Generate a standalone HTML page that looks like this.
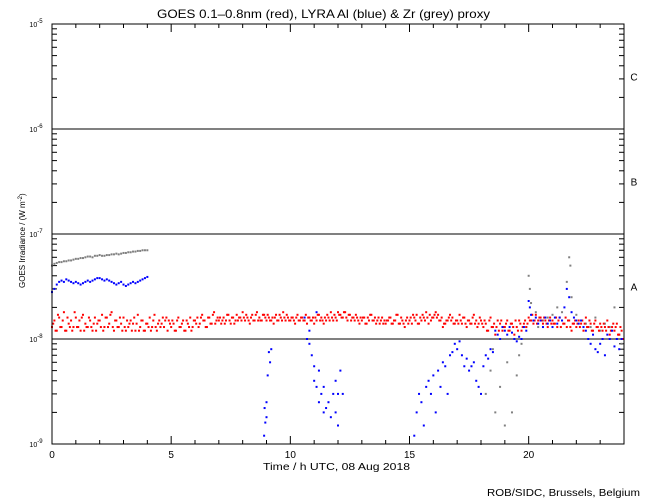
<!DOCTYPE html>
<html><head><meta charset="utf-8"><style>
body{margin:0;background:#fff}
svg{display:block;font-family:"Liberation Sans",sans-serif}
</style></head><body>
<svg id="chart" width="650" height="500" viewBox="0 0 650 500">
<text x="157" y="18" font-size="12" textLength="333" lengthAdjust="spacingAndGlyphs">GOES 0.1–0.8nm (red), LYRA Al (blue) &amp; Zr (grey) proxy</text>
<text x="263" y="470" font-size="10" textLength="147" lengthAdjust="spacingAndGlyphs">Time / h UTC, 08 Aug 2018</text>
<text transform="translate(25,288) rotate(-90)" font-size="8">GOES Irradiance / (W m<tspan dy="-3" font-size="6">-2</tspan><tspan dy="3">)</tspan></text>
<text x="487" y="496" font-size="10" textLength="153" lengthAdjust="spacingAndGlyphs">ROB/SIDC, Brussels, Belgium</text>
<g id="axes"></g>
<g id="marks"></g>
<rect x="52" y="24" width="572" height="420" fill="none" stroke="#000" stroke-width="1"/>
</svg>
<script>
const xTicks=[0,5,10,15,20];
const yDecades=[-9,-8,-7,-6,-5];
const classLabels=["A","B","C"];
const redVals=[
1.3,1.5,1.2,1.6,1.3,1.8,1.2,1.4,1.5,1.3,
1.6,1.3,1.2,1.7,1.4,1.3,1.5,1.2,1.6,1.4,
1.5,1.7,1.3,1.6,1.4,1.8,1.2,1.5,1.3,1.4,
1.6,1.2,1.3,1.5,1.4,1.2,1.7,1.3,1.5,1.2,
1.4,1.6,1.3,1.7,1.2,1.5,1.4,1.3,1.6,1.5,
1.3,1.4,1.2,1.6,1.3,1.5,1.2,1.4,1.6,1.3,
1.5,1.6,1.4,1.7,1.5,1.3,1.6,1.4,1.8,1.5,
1.5,1.4,1.6,1.5,1.7,1.4,1.6,1.5,1.5,1.6,
1.8,1.5,1.6,1.4,1.7,1.5,1.8,1.6,1.5,1.7,
1.5,1.6,1.5,1.4,1.7,1.5,1.6,1.8,1.5,1.6,
1.5,1.6,1.4,1.7,1.5,1.6,1.5,1.4,1.6,1.5,
1.4,1.5,1.7,1.6,1.4,1.5,1.6,1.8,1.5,1.6,
1.8,1.7,1.6,1.8,1.5,1.7,1.6,1.5,1.6,1.4,
1.5,1.6,1.4,1.5,1.7,1.5,1.4,1.6,1.5,1.4,
1.4,1.5,1.6,1.4,1.5,1.7,1.4,1.5,1.3,1.6,
1.5,1.4,1.6,1.7,1.4,1.5,1.6,1.8,1.4,1.5,
1.6,1.8,1.7,1.5,1.3,1.4,1.5,1.7,1.6,1.4,
1.5,1.7,1.4,1.6,1.3,1.5,1.4,1.7,1.5,1.4,
1.5,1.3,1.4,1.2,1.6,1.3,1.1,1.5,1.4,1.2,
1.3,1.5,1.2,1.4,1.1,1.3,1.5,1.2,1.4,1.3,
1.6,1.5,1.4,1.7,1.5,1.6,1.4,1.5,1.3,1.6,
1.5,1.4,1.3,1.6,1.5,1.4,1.3,1.5,1.2,1.4,
1.3,1.5,1.4,1.2,1.6,1.3,1.4,1.2,1.5,1.3,
1.4,1.2,1.3,1.5,1.1,1.3,1.2,1.4,1.1,1.2];
const redAlt=[
1.4,1.2,1.7,1.3,1.5,1.2,1.6,1.3,1.2,1.8,
1.3,1.5,1.6,1.2,1.3,1.6,1.3,1.4,1.2,1.5,
1.3,1.2,1.6,1.3,1.7,1.3,1.5,1.3,1.6,1.2,
1.3,1.5,1.4,1.2,1.6,1.4,1.2,1.5,1.2,1.4,
1.3,1.2,1.5,1.3,1.4,1.3,1.6,1.5,1.2,1.4,
1.5,1.2,1.5,1.3,1.4,1.2,1.5,1.3,1.2,1.5,
1.4,1.3,1.6,1.5,1.3,1.6,1.4,1.7,1.4,1.6,
1.6,1.5,1.4,1.7,1.5,1.6,1.4,1.7,1.6,1.5,
1.6,1.7,1.5,1.6,1.5,1.7,1.5,1.5,1.7,1.6,
1.7,1.5,1.6,1.6,1.5,1.7,1.5,1.6,1.7,1.5,
1.6,1.5,1.6,1.5,1.6,1.5,1.7,1.6,1.5,1.6,
1.6,1.7,1.5,1.5,1.6,1.7,1.5,1.6,1.7,1.5,
1.7,1.6,1.8,1.6,1.7,1.5,1.6,1.7,1.5,1.6,
1.6,1.4,1.6,1.7,1.5,1.6,1.5,1.4,1.6,1.5,
1.5,1.6,1.4,1.5,1.7,1.4,1.6,1.4,1.5,1.4,
1.6,1.7,1.5,1.4,1.6,1.7,1.5,1.6,1.7,1.6,
1.7,1.6,1.5,1.6,1.4,1.5,1.6,1.5,1.4,1.5,
1.4,1.5,1.6,1.4,1.5,1.4,1.6,1.4,1.3,1.6,
1.4,1.5,1.2,1.5,1.3,1.4,1.3,1.2,1.5,1.3,
1.4,1.2,1.4,1.3,1.5,1.2,1.4,1.3,1.5,1.4,
1.5,1.7,1.5,1.4,1.6,1.5,1.6,1.4,1.5,1.4,
1.4,1.6,1.5,1.3,1.4,1.6,1.5,1.3,1.4,1.5,
1.4,1.3,1.5,1.4,1.3,1.5,1.2,1.4,1.3,1.2,
1.3,1.4,1.2,1.3,1.2,1.4,1.3,1.1,1.3,1.0];
const blueEarly=[2.8,3.0,3.3,3.5,3.6,3.5,3.7,3.6,3.5,3.4,3.5,3.4,3.3,3.4,3.5,3.6,3.5,3.6,3.7,3.8,3.8,3.7,3.6,3.7,3.6,3.5,3.4,3.3,3.4,3.5,3.3,3.2,3.3,3.4,3.5,3.4,3.5,3.6,3.7,3.8,3.9];
const greyEarly=[5.0,5.2,5.3,5.4,5.4,5.5,5.5,5.6,5.6,5.7,5.8,5.8,5.9,5.9,6.0,6.1,6.1,6.0,6.2,6.2,6.3,6.2,6.2,6.3,6.3,6.4,6.4,6.5,6.4,6.5,6.6,6.6,6.7,6.7,6.8,6.8,6.9,6.9,7.0,7.0,7.0];
const blueLateT=[8.9,8.92,8.95,9.0,9.0,9.05,9.1,9.15,9.2,10.6,10.7,10.8,10.8,10.9,11.0,11.0,11.1,11.1,11.2,11.2,11.3,11.4,11.4,11.5,11.6,11.7,11.8,11.9,11.9,12.0,12.0,12.1,12.2,15.2,15.3,15.4,15.5,15.6,15.7,15.8,15.9,16.0,16.1,16.2,16.3,16.4,16.5,16.6,16.7,16.8,16.9,17.0,17.1,17.2,17.3,17.4,17.5,17.6,17.7,17.8,17.9,18.0,18.1,18.2,18.3,18.4,18.5,18.6,18.7,18.8,18.9,19.0,19.1,19.2,19.3,19.4,19.5,19.6,19.7,19.8,19.9,20.0,20.05,20.1,20.2,20.3,20.4,20.5,20.6,20.7,20.8,20.9,21.0,21.1,21.2,21.3,21.4,21.5,21.6,21.7,21.8,21.9,22.0,22.1,22.2,22.3,22.4,22.5,22.6,22.7,22.8,22.9,23.0,23.1,23.2,23.3,23.4,23.5,23.6,23.7,23.8,23.9];
const blueLateV=[0.12,0.22,0.16,0.25,0.18,0.45,0.75,0.6,0.8,1.6,1.0,0.9,1.2,0.7,0.55,0.4,0.35,1.8,0.25,0.5,0.3,0.2,0.35,0.22,0.25,0.18,0.3,0.2,0.4,0.15,0.3,0.5,0.3,0.12,0.2,0.3,0.25,0.15,0.35,0.4,0.3,0.45,0.2,0.5,0.35,0.6,0.55,0.3,0.7,0.75,0.9,0.8,0.95,0.7,0.55,0.65,0.5,0.55,0.6,0.4,0.35,0.3,0.55,0.7,0.65,0.8,0.75,1.2,1.1,1.0,1.3,1.2,1.1,1.3,1.15,1.0,0.95,1.05,1.0,1.3,1.2,2.3,2.0,1.7,1.5,1.6,1.4,1.5,1.3,1.6,1.4,1.5,1.3,1.6,1.4,1.6,1.5,2.0,3.0,2.5,1.8,1.6,1.5,1.4,1.5,1.3,1.2,1.0,0.9,1.1,0.8,0.75,0.9,1.0,0.7,1.1,1.0,1.2,0.85,1.0,0.8,1.0];
const greyLateT=[18.0,18.2,18.4,18.5,18.6,18.8,19.0,19.1,19.3,19.5,19.6,19.7,19.8,19.9,20.0,20.05,20.1,20.2,20.3,20.4,20.6,20.8,21.0,21.2,21.4,21.6,21.7,21.75,21.8,22.0,22.2,22.4,22.6,22.8,23.0,23.2,23.4,23.6,23.8,23.9];
const greyLateV=[0.1,0.3,0.5,0.8,0.2,0.35,0.15,0.6,0.2,0.45,0.7,0.9,1.0,1.3,4.0,3.0,2.2,1.5,1.8,1.3,1.5,1.6,1.7,2.0,1.8,3.5,6.0,5.0,2.5,1.7,1.5,1.4,1.3,1.6,1.2,1.4,1.3,2.0,1.1,0.9];

const X0=52,X1=624,Y0=444,Y1=24;
const xS=t=>X0+(X1-X0)*t/24;
const yS=v=>Y0-(Math.log10(v)+9)*(Y0-Y1)/4;
const NS="http://www.w3.org/2000/svg";
const axes=document.getElementById('axes'),marks=document.getElementById('marks');
function mk(tag,attrs,parent){const e=document.createElementNS(NS,tag);for(const k in attrs)e.setAttribute(k,attrs[k]);parent.appendChild(e);return e;}

for(let h=1;h<24;h++){
  const len=h%5===0?8:4;const x=xS(h);
  const b=mk('line',{x1:x,x2:x,y1:Y0,y2:Y0-len,stroke:'#000'},axes);
  
  
  const t=mk('line',{x1:x,x2:x,y1:Y1,y2:Y1+len,stroke:'#000'},axes);
  
  
}
xTicks.forEach(h=>{
  const l=mk('text',{x:xS(h),y:458,'text-anchor':'middle','font-size':10},axes);
  l.textContent=h;
  
  
});
yDecades.forEach((d,i)=>{
  const y=yS(Math.pow(10,d));
  const g=mk('text',{x:36,y:y+3,'text-anchor':'middle','font-size':7},axes);
  g.innerHTML='10<tspan dy="-4" font-size="6">'+d+'</tspan>';
  
  
  if(d>-9&&d<-5){
    const ln=mk('line',{x1:X0,x2:X1,y1:y,y2:y,stroke:'#000'},axes);
    
    
  }
  if(d<-5){
    for(let m=2;m<=9;m++){
      const yy=yS(m*Math.pow(10,d));
      const a=mk('line',{x1:X0,x2:X0+5,y1:yy,y2:yy,stroke:'#000'},axes);
      
      
      const c=mk('line',{x1:X1-5,x2:X1,y1:yy,y2:yy,stroke:'#000'},axes);
      
      
    }
  }
});
classLabels.forEach((c,i)=>{
  const y=yS(Math.pow(10,-8+i)*3.16);
  const l=mk('text',{x:634,y:y+4,'text-anchor':'middle','font-size':10},axes);
  l.textContent=c;
  
  
});
function dot(t,v,col,name){
  const y=yS(v*1e-8);
  if(y<Y1||y>Y0)return;
  const r=mk('rect',{x:xS(t)-1,y:y-1,width:2,height:2,fill:col},marks);
  
  
}
greyEarly.forEach((v,i)=>dot(i*0.1,v,'#808080','zr-point'));
greyLateT.forEach((t,i)=>dot(t,greyLateV[i],'#808080','zr-point'));
redVals.forEach((v,i)=>dot(i*0.1,v,'#ff0000','goes-point'));
redAlt.forEach((v,i)=>dot(i*0.1+0.05,v,'#ff0000','goes-point'));
blueEarly.forEach((v,i)=>dot(i*0.1,v,'#0000ff','al-point'));
blueLateT.forEach((t,i)=>dot(t,blueLateV[i],'#0000ff','al-point'));
</script>
</body></html>
